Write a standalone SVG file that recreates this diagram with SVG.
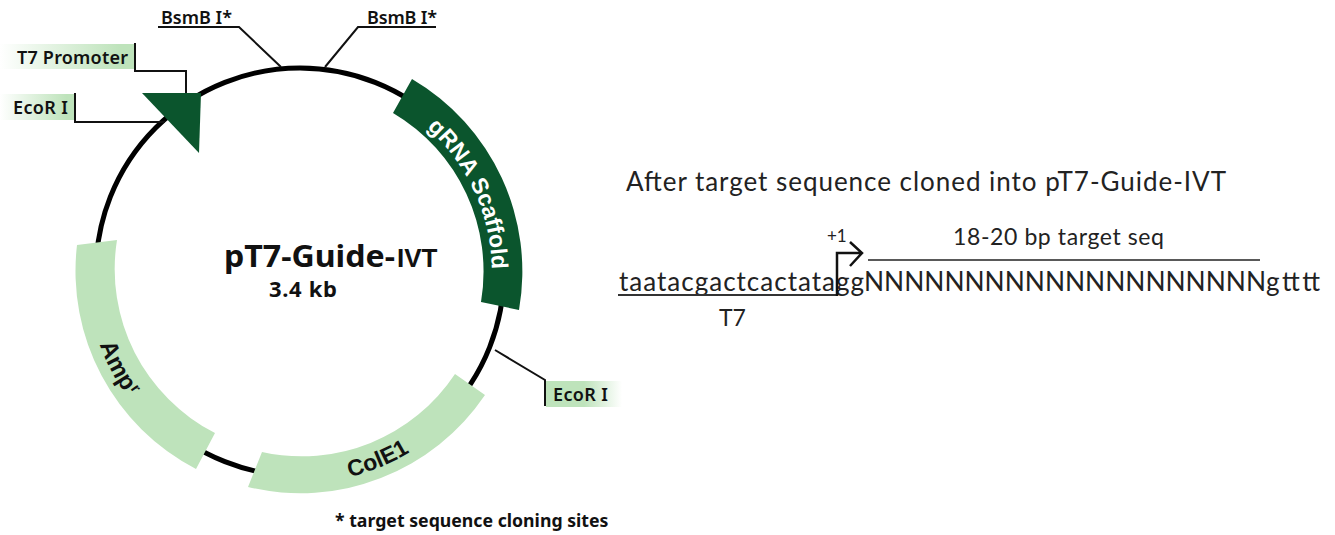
<svg xmlns="http://www.w3.org/2000/svg" width="1335" height="535" viewBox="0 0 1335 535">
<style>
.ln{fill:none;stroke:#111;stroke-width:2}
.lb{font-family:"Noto Sans","Open Sans",sans-serif;font-weight:600;font-size:18px;fill:#111}
.bd{font-family:"Liberation Sans",Arial,sans-serif;font-weight:700;font-size:23px}
.tt{font-family:"Noto Sans","Open Sans",sans-serif;font-weight:700;fill:#111}
.sq{font-family:Lato,"Open Sans",sans-serif;fill:#222}
.lt{fill:#bee3bb}
</style>
<defs>
<linearGradient id="fadeL"><stop offset="0" stop-color="#bee3bb" stop-opacity="0"/><stop offset=".9" stop-color="#bee3bb"/></linearGradient>
<linearGradient id="fadeR"><stop offset=".5" stop-color="#bee3bb"/><stop offset="1" stop-color="#bee3bb" stop-opacity="0"/></linearGradient>
<path id="arcG" d="M401.7,109.2A192 192 0 0 1 489.8,300.7"/>
<path id="arcA" d="M91.7,227.7A213 213 0 0 0 220.2,469.5"/>
<path id="arcC" d="M210.8,463.2A211 211 0 0 0 498.3,344.2"/>
</defs>
<g id="connectors">
<circle cx="300" cy="272" r="204" fill="none" stroke="#000" stroke-width="5"/>
<path class="ln" d="M158,27H239L281,67"/>
<path class="ln" d="M325,67L358,27H436"/>
<path class="ln" d="M135,43V71H186V93"/>
<path class="ln" d="M75,93V122H165"/>
<path class="ln" d="M495,350L545,380V406"/>
</g>
<g id="gRNA"><path fill="#0b552d" d="M393,113L412,79A223 223 0 0 1 519,310L481,302A184 184 0 0 0 393,113Z"/>
<text class="bd" fill="#fff"><textPath href="#arcG" startOffset="50%" text-anchor="middle">gRNA Scaffold</textPath></text></g>
<g id="amp"><path class="lt" d="M77,245L117,240A184 184 0 0 0 215,433L196,469A223 223 0 0 1 77,245Z"/>
<text class="bd" fill="#111" style="font-size:24px"><textPath href="#arcA" startOffset="50%" text-anchor="middle">Amp<tspan style="font-size:15px" dx="1" dy="-7">r</tspan></textPath></text></g>
<g id="cole1"><path class="lt" d="M262,452L248,487A223 223 0 0 0 485,395L455,374A184 184 0 0 1 262,452Z"/>
<text class="bd" fill="#111"><textPath href="#arcC" startOffset="50%" text-anchor="middle">ColE1</textPath></text></g>
<g id="t7-promoter"><polygon fill="#0b552d" points="142,93 201,93 199,153"/>
<rect x="0" y="44" width="134" height="25" fill="url(#fadeL)"/>
<text class="lb" x="17" y="64" textLength="111">T7 Promoter</text></g>
<g id="ecor-top"><rect x="0" y="94" width="74" height="26" fill="url(#fadeL)"/>
<text class="lb" x="13" y="114" textLength="55">EcoR I</text></g>
<g id="ecor-bottom"><rect x="546" y="381" width="76" height="26" fill="url(#fadeR)"/>
<text class="lb" x="553" y="401" textLength="55">EcoR I</text></g>
<g id="bsmb-left"><text class="lb" x="161" y="24" textLength="71">BsmB I*</text></g>
<g id="bsmb-right"><text class="lb" x="367" y="24" textLength="70">BsmB I*</text></g>
<g id="title"><text class="tt" x="224" y="267" font-size="30" textLength="171" lengthAdjust="spacingAndGlyphs">pT7-Guide-</text>
<text x="397" y="267" font-family="'Liberation Sans',Arial,sans-serif" font-weight="700" font-size="26" fill="#111">IVT</text>
<text class="tt" x="269" y="297" font-size="22" textLength="68">3.4 kb</text></g>
<g id="footnote"><text class="tt" x="335" y="527" font-size="17.7">* target sequence cloning sites</text></g>
<g id="sequence">
<text class="sq" x="626" y="191" font-size="26" textLength="600" lengthAdjust="spacing">After target sequence cloned into pT7-Guide-IVT</text>
<text class="sq" x="827" y="242" font-size="17">+1</text>
<text class="sq" x="953" y="245" font-size="23" textLength="211">18-20 bp target seq</text>
<line x1="868" y1="260" x2="1260" y2="260" stroke="#222" stroke-width="1.5"/>
<text class="sq" x="619" y="291" font-size="26" textLength="245">taatacgactcactatagg</text>
<text class="sq" x="864" y="291" font-size="26" textLength="402" lengthAdjust="spacingAndGlyphs">NNNNNNNNNNNNNNNNNNNN</text>
<text class="sq" x="1266" y="291" font-size="26" textLength="54">gtttt</text>
<line x1="618" y1="295" x2="837" y2="295" stroke="#333" stroke-width="2"/>
<text class="sq" x="719" y="326" font-size="23">T7</text>
<path d="M837,296V253H861M850,242L862,253L850,266" fill="none" stroke="#111" stroke-width="2.5"/>
</g>
</svg>
